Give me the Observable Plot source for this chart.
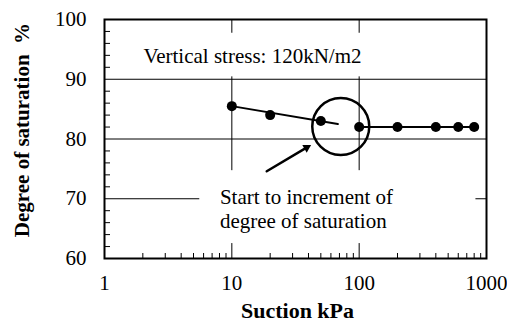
<!DOCTYPE html>
<html><head><meta charset="utf-8">
<script src="https://cdn.jsdelivr.net/npm/d3@7"></script>
<script src="https://cdn.jsdelivr.net/npm/@observablehq/plot@0.6"></script>
<style>body{margin:0;background:#fff} svg text{font-family:"Liberation Serif","Times New Roman",serif}</style>
</head><body><div id="chart"></div>
<script>
// data
const suction = [10, 20, 50, 100, 200, 400, 600, 800];
const saturation = [85.5, 84, 83, 82, 82, 82, 82, 82];
const trendSuction = [10, 68];
const trendSaturation = [85.5, 82.5];
const flatSuction = [100, 800];
const flatSaturation = [82, 82];
const xTicks = [1, 10, 100, 1000];
const yTicks = [60, 70, 80, 90, 100];
const xGrid = [10, 100];
const yGrid = [70, 80, 90];
const xMinor = [2,3,4,5,6,7,8,9,20,30,40,50,60,70,80,90,200,300,400,500,600,700,800,900];
const yMinor = [62,64,66,68,72,74,76,78,82,84,86,88,92,94,96,98];
const circleSuction = [71.7];
const circleSaturation = [82.1];
const arrowFrom = [18.8, 74.6];
const arrowTo = [42.7, 79.1];
const note1 = "Vertical stress: 120kN/m2";
const note1At = [2.02, 92.7];
const note2 = "Start to increment of\ndegree of saturation";
const note2At = [8.06, 68.4];
const boxX1 = [1.9, 5.6], boxX2 = [125, 826], boxY1 = [90.4, 62.5], boxY2 = [97.7, 74.7];
const xTitle = "Suction kPa";
const yTitle = "Degree of saturation\u00a0 %";

const W = 507, H = 332, mL = 104, mR = 21, mT = 19, mB = 74;
const pw = W - mL - mR, ph = H - mT - mB;
const font = '"Liberation Serif", "Times New Roman", serif';

const pts = suction.map((s, i) => ({s, v: saturation[i]}));
const trend = trendSuction.map((s, i) => ({s, v: trendSaturation[i]}));
const flat = flatSuction.map((s, i) => ({s, v: flatSaturation[i]}));
const boxes = boxX1.map((x1, i) => ({x1, x2: boxX2[i], y1: boxY1[i], y2: boxY2[i]}));
const arrowData = [{x1: arrowFrom[0], y1: arrowFrom[1], x2: arrowTo[0], y2: arrowTo[1]}];

const plot = Plot.plot({
  width: W, height: H,
  marginLeft: mL, marginRight: mR, marginTop: mT, marginBottom: mB,
  style: {fontFamily: font, fontSize: "21px", background: "white", color: "black"},
  x: {type: "log", domain: [1, 1000]},
  y: {domain: [60, 100]},
  marks: [
    Plot.ruleY(yGrid, {stroke: "black", strokeWidth: 1}),
    Plot.ruleX(xGrid, {stroke: "black", strokeWidth: 1}),
    Plot.rect(boxes, {x1: "x1", x2: "x2", y1: "y1", y2: "y2", fill: "white"}),
    Plot.ruleY(yMinor, {stroke: "black", strokeWidth: 1, insetRight: pw - 6}),
    Plot.ruleX(xMinor, {stroke: "black", strokeWidth: 1, insetTop: ph - 5}),
    Plot.frame({stroke: "black", strokeWidth: 2}),
    Plot.axisX(xTicks, {tickSize: 0, tickPadding: 17, fontSize: 21, fontFamily: font, tickFormat: d => String(d), label: null}),
    Plot.axisY(yTicks, {tickSize: 0, tickPadding: 18, fontSize: 21, fontFamily: font, tickFormat: d => String(d), label: null}),
    Plot.line(trend, {x: "s", y: "v", stroke: "black", strokeWidth: 2}),
    Plot.line(flat, {x: "s", y: "v", stroke: "black", strokeWidth: 2}),
    Plot.dot(pts, {x: "s", y: "v", r: 5, fill: "black"}),
    Plot.dot(circleSuction.map((s, i) => ({s, v: circleSaturation[i]})), {x: "s", y: "v", r: 28.5, stroke: "black", strokeWidth: 2.5, fill: "none"}),
    Plot.arrow(arrowData, {x1: "x1", y1: "y1", x2: "x2", y2: "y2", stroke: "black", strokeWidth: 2.5, headLength: 0, insetEnd: 6}),
    Plot.dot(arrowData, {x: "x2", y: "y2", symbol: "triangle2", r: 4.2, fill: "black", rotate: 60, dx: -5.4, dy: 3.2}),
    Plot.text([note1], {x: note1At[0], y: note1At[1], text: d => d, textAnchor: "start", lineAnchor: "bottom", fontSize: 21, fontFamily: font, fill: "black"}),
    Plot.text([note2], {x: note2At[0], y: note2At[1], text: d => d, textAnchor: "start", lineAnchor: "middle", fontSize: 21, fontFamily: font, lineHeight: 1.15, fill: "black"}),
    Plot.text([xTitle], {frameAnchor: "bottom", dx: 2, dy: 59, text: d => d, textAnchor: "middle", lineAnchor: "bottom", fontSize: 22, fontFamily: font, fontWeight: "bold", fill: "black"}),
    Plot.text([yTitle], {frameAnchor: "left", dx: -82, dy: -9, rotate: -90, text: d => d, textAnchor: "middle", lineAnchor: "middle", fontSize: 21, fontFamily: font, fontWeight: "bold", fill: "black"})
  ]
});
document.getElementById("chart").appendChild(plot);
</script>
</body></html>
